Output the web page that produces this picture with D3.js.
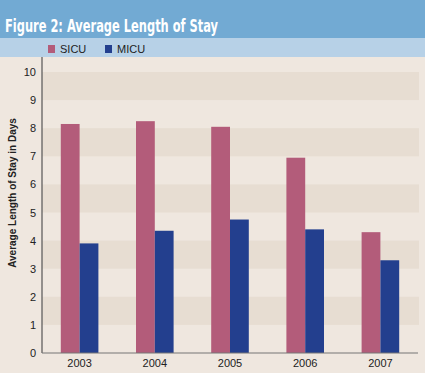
<!DOCTYPE html>
<html>
<head>
<meta charset="utf-8">
<script src="https://cdn.jsdelivr.net/npm/d3@7"></script>
<style>
  body { margin: 0; background: #efe7df; }
  svg { display: block; }
</style>
</head>
<body>
<div id="chart"></div>
<script>
// data
var years = ["2003", "2004", "2005", "2006", "2007"];
var sicu = [8.15, 8.25, 8.05, 6.95, 4.3];
var micu = [3.9, 4.35, 4.75, 4.4, 3.3];
var yTicks = [0, 1, 2, 3, 4, 5, 6, 7, 8, 9, 10];
var seriesNames = ["SICU", "MICU"];
var seriesColors = ["#b35c7a", "#233f8e"];

var width = 425, height = 373;
var margin = { top: 57, right: 7, bottom: 20, left: 42 };

var svg = d3.select("#chart")
  .append("svg")
  .attr("width", width)
  .attr("height", height);

// header bands
svg.append("rect").attr("x", 0).attr("y", 0).attr("width", width).attr("height", 38).attr("fill", "#72aad3");
svg.append("rect").attr("x", 0).attr("y", 38).attr("width", width).attr("height", 19).attr("fill", "#b7d1e7");
svg.append("rect").attr("x", 0).attr("y", 57).attr("width", width).attr("height", height - 57).attr("fill", "#efe7df");

svg.append("text")
  .attr("x", 5)
  .attr("y", 32)
  .attr("fill", "#fff")
  .style("font-family", "'Liberation Sans Narrow', 'DejaVu Sans Condensed', Arial, sans-serif")
  .style("font-weight", "bold")
  .style("font-size", "18px")
  .attr("textLength", 213)
  .attr("lengthAdjust", "spacingAndGlyphs")
  .text("Figure 2: Average Length of Stay");

// legend
var legX = [48, 105];
seriesNames.forEach(function (name, i) {
  svg.append("rect")
    .attr("x", legX[i]).attr("y", 45)
    .attr("width", 7).attr("height", 8)
    .attr("fill", seriesColors[i]);
  svg.append("text")
    .attr("x", legX[i] + 12).attr("y", 53)
    .style("font-family", "Arial, 'Liberation Sans', sans-serif")
    .style("font-size", "11px")
    .attr("fill", "#222")
    .text(name);
});

var x0 = d3.scaleBand()
  .domain(years)
  .range([margin.left, 418])
  .paddingInner(0.5)
  .paddingOuter(0.25);

var x1 = d3.scaleBand()
  .domain(seriesNames)
  .range([0, x0.bandwidth()]);

var y = d3.scaleLinear()
  .domain([0, 10])
  .range([353, 72]);

// alternating stripes
var stripes = [9, 7, 5, 3, 1];
svg.append("g").selectAll("rect")
  .data(stripes)
  .enter().append("rect")
  .attr("x", margin.left)
  .attr("y", function (d) { return y(d + 1); })
  .attr("width", 419 - margin.left)
  .attr("height", function (d) { return y(d) - y(d + 1); })
  .attr("fill", "#e7ddd2");

// bars
var groups = svg.append("g").selectAll("g")
  .data(years)
  .enter().append("g")
  .attr("transform", function (d) { return "translate(" + x0(d) + ",0)"; });

groups.selectAll("rect")
  .data(function (d, i) { return [{ k: "SICU", v: sicu[i] }, { k: "MICU", v: micu[i] }]; })
  .enter().append("rect")
  .attr("x", function (d) { return x1(d.k); })
  .attr("y", function (d) { return y(d.v); })
  .attr("width", x1.bandwidth())
  .attr("height", function (d) { return y(0) - y(d.v); })
  .attr("fill", function (d, i) { return seriesColors[i]; });

// axes
var yAxis = svg.append("g")
  .attr("transform", "translate(" + margin.left + ",0)")
  .call(d3.axisLeft(y).tickValues(yTicks).tickSize(0).tickPadding(6));
yAxis.select(".domain").remove();
yAxis.selectAll("text")
  .style("font-family", "Arial, 'Liberation Sans', sans-serif")
  .style("font-size", "11px")
  .attr("fill", "#222");

var xAxis = svg.append("g")
  .attr("transform", "translate(0,353)")
  .call(d3.axisBottom(x0).tickSize(0).tickPadding(6));
xAxis.select(".domain").remove();
xAxis.selectAll("text")
  .style("font-family", "Arial, 'Liberation Sans', sans-serif")
  .style("font-size", "11px")
  .attr("fill", "#222");

svg.append("line")
  .attr("x1", margin.left).attr("x2", margin.left)
  .attr("y1", 57).attr("y2", 353)
  .attr("stroke", "#555").attr("stroke-width", 1.2);
svg.append("line")
  .attr("x1", margin.left).attr("x2", 418)
  .attr("y1", 353).attr("y2", 353)
  .attr("stroke", "#777").attr("stroke-width", 1.2);

svg.append("text")
  .attr("transform", "translate(16,193) rotate(-90)")
  .attr("text-anchor", "middle")
  .style("font-family", "Arial, 'Liberation Sans', sans-serif")
  .style("font-weight", "bold")
  .style("font-size", "10px")
  .attr("fill", "#222")
  .text("Average Length of Stay in Days");
</script>
</body>
</html>
